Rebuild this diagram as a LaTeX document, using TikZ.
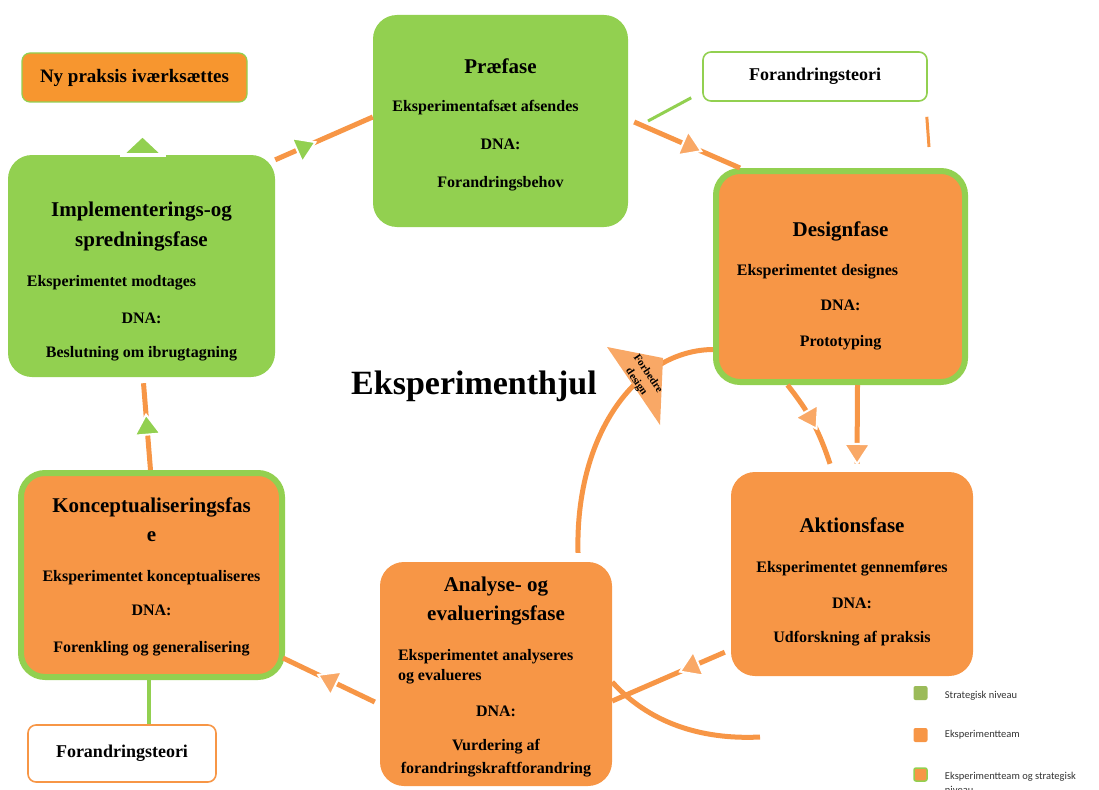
\documentclass[tikz,border=0pt]{standalone}
\usepackage{fontspec}
\setmainfont{Liberation Serif}
\newfontfamily\legfont{Carlito}
\usetikzlibrary{positioning,calc,decorations.markings}

\definecolor{fasegreen}{HTML}{92D050}
\definecolor{faseorange}{HTML}{F79646}
\definecolor{pilorange}{HTML}{F9A866}
\definecolor{nyorange}{HTML}{F7962F}
\definecolor{leggreen}{HTML}{9BBB59}

\newcommand{\fase}[1]{{\fontsize{21}{28}\selectfont #1}}
\newcommand{\lift}[1]{\rule{0pt}{#1}}
\newcommand{\venstre}[1]{\hspace*{#1}\null}

\tikzset{
  fasebox/.style={rectangle, rounded corners=24pt, inner sep=0pt, align=center, text=black,
    font=\fontsize{16}{19}\selectfont\bfseries},
  strat/.style={fasebox, fill=fasegreen},
  team/.style={fasebox, fill=faseorange},
  begge/.style={fasebox, fill=faseorange, draw=fasegreen, line width=6pt},
  smallbox/.style={rectangle, rounded corners=8pt, inner sep=0pt, line width=1.6pt,
    font=\fontsize{18}{22}\selectfont\bfseries},
  link/.style={draw=faseorange, line width=5pt},
  greenlink/.style={draw=fasegreen, line width=4pt},
  midtri/.style 2 args={postaction={decorate, decoration={markings,
    mark=at position #1 with {\filldraw[fill=#2, draw=white, line width=2pt]
      (-8pt,-13pt) -- (12pt,0pt) -- (-8pt,13pt) -- cycle;}}}},
  legbox/.style={rectangle, rounded corners=2pt, minimum size=14pt, inner sep=0pt},
  legtext/.style={font=\legfont\fontsize{10.5}{14}\selectfont, inner sep=0pt, align=left, text=black!80},
}

\begin{document}
\begin{tikzpicture}[x=1pt, y=-1pt]
\useasboundingbox (0,0) rectangle (1099,789);
\clip (0,0) rectangle (1099,789);

% faser
\node[strat, minimum width=255pt, minimum height=212pt] (pre) at (500.5,121)
  {\lift{23pt}\fase{Præfase}\\[19pt] Eksperimentafsæt afsendes\venstre{30pt}\\[19pt] DNA:\\[19pt] Forandringsbehov};
\node[begge, minimum width=249pt, minimum height=211pt] (design) at (840.5,276.5)
  {\lift{34pt}\fase{Designfase}\\[20pt] Eksperimentet designes\venstre{46pt}\\[16pt] DNA:\\[17pt] Prototyping};
\node[team, minimum width=242pt, minimum height=204pt] (akt) at (852,574)
  {\lift{30pt}\fase{Aktionsfase}\\[21pt] Eksperimentet gennemføres\\[17pt] DNA:\\[15pt] Udforskning af praksis};
\node[team, minimum width=232pt, minimum height=224pt] (ana) at (496,674)
  {\lift{21pt}\fase{Analyse- og}\\[9pt]\fase{evalueringsfase}\\[21pt]
   \makebox[176pt][l]{Eksperimentet analyseres}\venstre{20pt}\\[1pt] \makebox[176pt][l]{og evalueres}\venstre{20pt}\\[17pt]
   DNA:\\[15pt] Vurdering af\\[4pt] forandringskraftforandring};
\node[begge, minimum width=261pt, minimum height=204pt] (konc) at (151.5,575)
  {\lift{18pt}\fase{Konceptualiseringsfas}\\[10pt]\fase{e}\\[21pt] Eksperimentet konceptualiseres\\[15pt] DNA:\\[18pt] Forenkling og generalisering};
\node[strat, minimum width=267pt, minimum height=222pt] (impl) at (141.5,266)
  {\lift{46pt}\fase{Implementerings-og}\\[10pt]\fase{spredningsfase}\\[21pt] Eksperimentet modtages\venstre{60pt}\\[18pt] DNA:\\[15pt] Beslutning om ibrugtagning};

% små bokse
\node[smallbox, fill=nyorange, draw=fasegreen, line width=1.2pt, minimum width=225pt, minimum height=49pt,
  font=\fontsize{19}{22}\selectfont\bfseries] (ny) at (134.5,77.5) {Ny praksis iværksættes};
\node[smallbox, fill=white, draw=fasegreen, minimum width=224pt, minimum height=49pt] (teoriA) at (815,76.5) {Forandringsteori};
\node[smallbox, fill=white, draw=faseorange, minimum width=188pt, minimum height=57pt] (teoriB) at (122,753.5) {Forandringsteori};

\node[font=\fontsize{34}{40}\selectfont\bfseries] (titel) at (474,386) {Eksperimenthjul};

% pile
\draw[link, midtri={0.3}{fasegreen}] ([yshift=-5pt]impl.north east) -- ([yshift=4pt]pre.west);
\draw[link, midtri={0.53}{pilorange}] ([xshift=6pt,yshift=-1pt]pre.east) -- ($(design.north west)+(27,0)$);
\coordinate (tApunkt) at (648,121);
\draw[greenlink, line width=3pt] ($(teoriA.south west)+(-11,-4)$) -- (tApunkt);
\coordinate (tAstub) at ($(teoriA.south east)+(-1,15)$);
\coordinate (dstub) at ($(design.north east)+(-39,-21)$);
\draw[link, line width=3pt] (tAstub) -- (dstub);

\draw[link, midtri={0.45}{pilorange}] ($(design.south)+(-53,0)$) to[bend left=10] ($(akt.north)+(-22,-8)$);
\draw[link, midtri={0.85}{pilorange}] ($(design.south)+(17,0)$) -- ($(akt.north)+(5,-8)$);

\draw[link, midtri={0.3}{pilorange}] ($(akt.south west)+(-6,-24)$) -- ($(ana.east)+(0,27)$);
\coordinate (loopend) at (760,737);
\draw[link] ($(ana.east)+(0,8)$) .. controls (648,722) and (700,740) .. (loopend);

\draw[link, midtri={0.5}{pilorange}] ($(ana.west)+(-5,28)$) -- ($(konc.south east)+(-2,-22)$);
\draw[link, midtri={0.5}{fasegreen}] ($(konc.north)+(-1,0)$) -- ($(impl.south)+(2,6)$);

\fill[white] ($(impl.north)+(-22,-2)$) rectangle ($(impl.north)+(24,2)$);
\fill[fasegreen] ($(impl.north)+(-15,-2)$) -- ($(impl.north)+(1,-17)$) -- ($(impl.north)+(17,-2)$) -- cycle;

\coordinate (kt) at ($(konc.south)+(-3,0)$);
\draw[greenlink] (kt) -- (kt |- teoriB.north);

% forbedre design
\draw[link] ($(ana.north)+(82,-9)$) .. controls (575,430) and (640,350) .. ($(design.west)+(0,73)$);
\fill[pilorange] (607,347) -- (663,358) -- (660,425) -- cycle;
\node[rotate=-56, align=center, inner sep=0pt, font=\fontsize{11}{14}\selectfont\bfseries] (fbtxt) at (642,378) {Forbedre\\design};

% signatur
\node[legbox, fill=leggreen] (leg1) at (920.5,693) {};
\node[legbox, fill=faseorange] (leg2) at (920.5,735) {};
\node[legbox, fill=faseorange, draw=fasegreen, line width=1.5pt, minimum size=13pt] (leg3) at (920.5,774.5) {};
\node[legtext, right=17pt of leg1, yshift=-3pt] (lt1) {Strategisk niveau};
\node[legtext, right=17pt of leg2] (lt2) {Eksperimentteam};
\node[legtext, anchor=north west] (lt3) at ($(leg3.north east)+(17,5)$) {Eksperimentteam og strategisk\\niveau};
\end{tikzpicture}
\end{document}
